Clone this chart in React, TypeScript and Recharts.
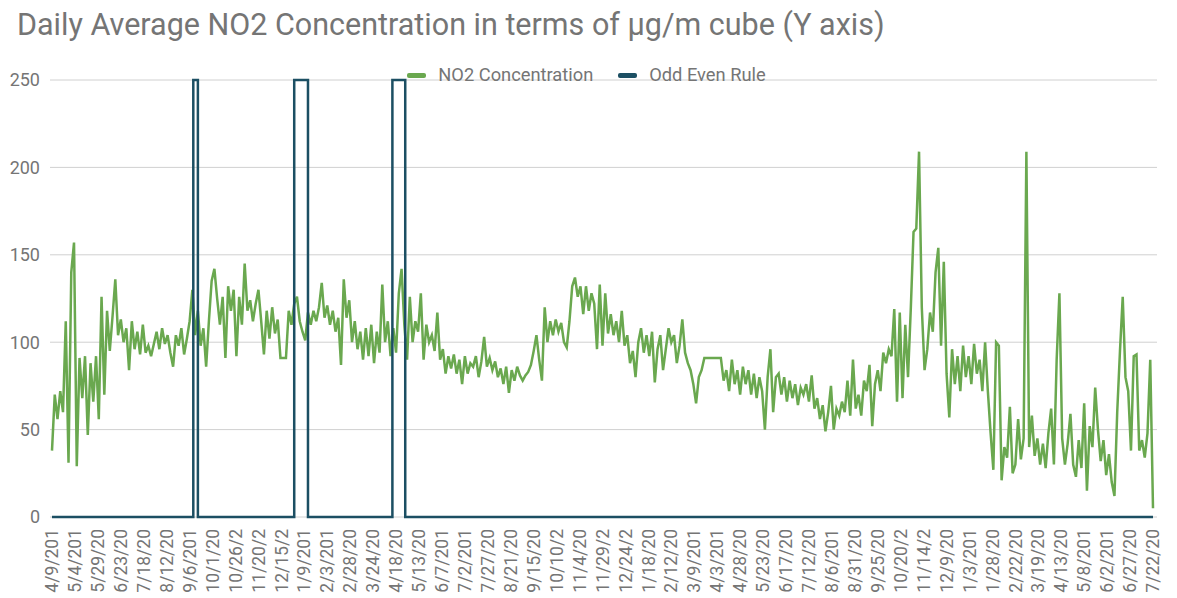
import React from "react";
import { CartesianGrid, Legend, Line, LineChart, XAxis, YAxis } from "recharts";

const TITLE = "Daily Average NO2 Concentration in terms of µg/m cube (Y axis)";

// one reading every 3 days, starting at the first date on the axis
const SAMPLE_STEP_DAYS = 3;

// NO2 daily average (µg/m³)
const NO2_VALUES = [
  38, 70, 56, 72, 60, 112, 31, 140, 157, 29,
  91, 68, 92, 47, 88, 66, 92, 56, 126, 70,
  118, 95, 115, 136, 104, 113, 100, 108, 84, 112,
  96, 106, 93, 110, 94, 98, 92, 99, 106, 96,
  108, 99, 104, 94, 86, 104, 98, 108, 93, 102,
  112, 130, 104, 118, 98, 108, 86, 112, 135, 142,
  125, 110, 126, 91, 132, 118, 130, 92, 126, 110,
  145, 118, 124, 112, 122, 130, 112, 93, 118, 102,
  120, 105, 113, 91, 91, 91, 118, 110, 122, 126,
  112, 106, 101, 117, 110, 118, 112, 120, 134, 114,
  121, 110, 118, 106, 114, 87, 136, 114, 124, 100,
  112, 96, 106, 90, 108, 92, 110, 88, 106, 94,
  133, 100, 112, 92, 108, 94, 128, 142, 110, 90,
  126, 100, 112, 106, 128, 90, 110, 100, 104, 95,
  117, 90, 96, 82, 92, 85, 93, 82, 90, 76,
  92, 82, 88, 86, 92, 80, 89, 103, 86, 91,
  84, 89, 80, 85, 76, 86, 71, 84, 78, 86,
  81, 78, 81, 83, 87, 95, 104, 90, 78, 120,
  100, 112, 104, 113, 106, 111, 100, 97, 112, 132,
  137, 126, 132, 116, 132, 118, 128, 122, 96, 133,
  98, 128, 105, 116, 104, 112, 100, 118, 98, 104,
  88, 95, 80, 100, 108, 94, 104, 92, 106, 77,
  96, 104, 84, 96, 108, 100, 104, 88, 98, 113,
  94, 88, 84, 76, 65, 80, 84, 91, 91, 91,
  91, 91, 91, 91, 78, 84, 72, 90, 76, 84,
  70, 86, 76, 84, 70, 82, 68, 80, 72, 50,
  80, 96, 60, 80, 82, 70, 80, 66, 78, 68,
  76, 64, 74, 70, 76, 66, 81, 62, 68, 56,
  64, 49, 60, 75, 50, 62, 58, 66, 60, 78,
  58, 90, 62, 70, 58, 78, 72, 87, 52, 76,
  84, 72, 94, 88, 96, 92, 119, 66, 117, 68,
  110, 80, 119, 163, 165, 209, 120, 84, 96, 117,
  106, 140, 154, 98, 146, 82, 57, 96, 76, 92,
  72, 98, 80, 92, 76, 99, 82, 90, 72, 100,
  72, 48, 27, 100, 98, 21, 40, 34, 63, 25,
  30, 56, 33, 45, 209, 40, 58, 35, 45, 30,
  42, 28, 48, 62, 30, 90, 128, 45, 30, 42,
  59, 30, 23, 44, 28, 65, 15, 52, 40, 74,
  50, 32, 44, 24, 36, 20, 12, 60, 95, 126,
  80, 72, 38, 92, 93, 38, 44, 34, 48, 90,
  5,
];

// odd-even rule: 250 while the rule is on, 0 otherwise
const ODD_EVEN_DAYS = [0, 154, 154, 159, 159, 264, 264, 279, 279, 371, 371, 385, 385, 1200];
const ODD_EVEN_VALUES = [0, 0, 250, 250, 0, 0, 250, 250, 0, 0, 250, 250, 0, 0];

// axis labels every 25 days (truncated as in the original)
const TICK_STEP_DAYS = 25;
const TICK_LABELS = [
  "4/9/201", "5/4/201", "5/29/20", "6/23/20", "7/18/20", "8/12/20", "9/6/201",
  "10/1/20", "10/26/2", "11/20/2", "12/15/2", "1/9/201", "2/3/201", "2/28/20",
  "3/24/20", "4/18/20", "5/13/20", "6/7/201", "7/2/201", "7/27/20", "8/21/20",
  "9/15/20", "10/10/2", "11/4/20", "11/29/2", "12/24/2", "1/18/20", "2/12/20",
  "3/9/201", "4/3/201", "4/28/20", "5/23/20", "6/17/20", "7/12/20", "8/6/201",
  "8/31/20", "9/25/20", "10/20/2", "11/14/2", "12/9/20", "1/3/201", "1/28/20",
  "2/22/20", "3/19/20", "4/13/20", "5/8/201", "6/2/201", "6/27/20", "7/22/20",
];

const Y_TICKS = [0, 50, 100, 150, 200, 250];

const GREEN = "#6aa84f";
const TEAL = "#1c4f63";
const GREY = "#757575";
const FONT = "Roboto, 'Noto Sans', sans-serif";

const no2Data = NO2_VALUES.map((v, i) => ({ day: i * SAMPLE_STEP_DAYS, no2: v }));
const oddEvenData = ODD_EVEN_DAYS.map((d, i) => ({ day: d, oddEven: ODD_EVEN_VALUES[i] }));
const xTicks = TICK_LABELS.map((_, i) => i * TICK_STEP_DAYS);
const labelFor = (day: number) => TICK_LABELS[Math.round(day / TICK_STEP_DAYS)] ?? "";

function DateTick({ x, payload }: any) {
  return (
    <text
      transform={`translate(${x},529) rotate(-90)`}
      textAnchor="end"
      dy="0.35em"
      fontSize={17.5}
      fill={GREY}
      fontFamily={FONT}
    >
      {labelFor(payload.value)}
    </text>
  );
}

function LegendRow({ payload }: any) {
  return (
    <div style={{ display: "flex", justifyContent: "center", alignItems: "center", height: 20, fontFamily: FONT }}>
      {(payload || []).map((p: any, i: number) => (
        <div key={p.value} style={{ display: "flex", alignItems: "center", marginLeft: i ? 25 : 0 }}>
          <span style={{ width: 19, height: 5, borderRadius: 2, background: p.color, marginRight: 12 }} />
          <span style={{ fontSize: 18.3, lineHeight: "20px", color: GREY }}>{p.value}</span>
        </div>
      ))}
    </div>
  );
}

export default function App() {
  return (
    <div style={{ position: "absolute", left: 0, top: 0, width: 1177, height: 598, background: "#fff", fontFamily: FONT }}>
      <div style={{ position: "absolute", left: 17, top: 10, fontSize: 30.5, lineHeight: 1, color: GREY, whiteSpace: "nowrap" }}>
        {TITLE}
      </div>
      <LineChart width={1177} height={598} margin={{ top: 80, right: 20, bottom: 0, left: 0 }}>
        <CartesianGrid vertical={false} stroke="#d0d0d0" />
        <XAxis
          type="number"
          dataKey="day"
          domain={[0, 1200]}
          ticks={xTicks}
          interval={0}
          tick={<DateTick />}
          axisLine={false}
          tickLine={false}
          height={81}
          padding={{ left: 2, right: 4 }}
        />
        <YAxis
          domain={[0, 250]}
          ticks={Y_TICKS}
          width={50}
          axisLine={false}
          tickLine={false}
          tickSize={0}
          tickMargin={10}
          tick={{ fontSize: 18, fill: GREY, fontFamily: FONT }}
        />
        <Legend
          layout="horizontal"
          verticalAlign="middle"
          align="center"
          wrapperStyle={{ top: 65, left: 0, width: 1173 }}
          content={<LegendRow />}
        />
        <Line
          data={no2Data}
          dataKey="no2"
          name="NO2 Concentration"
          type="linear"
          stroke={GREEN}
          strokeWidth={2.5}
          dot={false}
          activeDot={false}
          isAnimationActive={false}
        />
        <Line
          data={oddEvenData}
          dataKey="oddEven"
          name="Odd Even Rule"
          type="linear"
          stroke={TEAL}
          strokeWidth={2.5}
          dot={false}
          activeDot={false}
          isAnimationActive={false}
        />
      </LineChart>
    </div>
  );
}
